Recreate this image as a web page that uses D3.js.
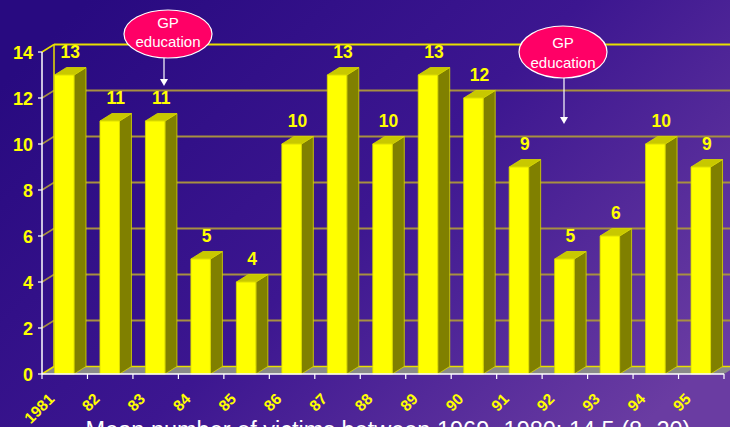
<!DOCTYPE html>
<html><head><meta charset="utf-8">
<script src="https://cdn.jsdelivr.net/npm/d3@7"></script>
<style>html,body{margin:0;padding:0;background:#2a0a82;}svg{display:block;}</style>
</head><body>
<svg id="c" width="730" height="427"></svg>
<script>
const categories = ["1981","82","83","84","85","86","87","88","89","90","91","92","93","94","95"];
const values = [13,11,11,5,4,10,13,10,13,12,9,5,6,10,9];
const yTicks = [0,2,4,6,8,10,12,14];
const title = "Mean number of victims between 1969 -1980: 14.5 (8 -20)";
const callouts = [
  {after: "83", lines: ["GP","education"]},
  {after: "92", lines: ["GP","education"]}
];

const W = 730, H = 427;
const svg = d3.select("#c");
const defs = svg.append("defs");
const grad = defs.append("linearGradient").attr("id","bg")
  .attr("x1","0").attr("y1","0.2").attr("x2","1").attr("y2","0.8");
grad.append("stop").attr("offset","0").attr("stop-color","#280a80");
grad.append("stop").attr("offset","0.5").attr("stop-color","#3c1690");
grad.append("stop").attr("offset","1").attr("stop-color","#6a3ca2");
svg.append("rect").attr("width",W).attr("height",H).attr("fill","url(#bg)");

const x0 = 42, x1 = 724;
const x = d3.scaleBand().domain(categories).range([x0, x1]).padding(0);
const y = d3.scaleLinear().domain([0,14]).range([374, 52]);
const dx = 12, dy = -7.5;
const bw = 19.5, boff = 12.5;
const font = "Liberation Sans, Arial, sans-serif";

const grid = "#a89040", yel = "#e8e000";

yTicks.forEach(t => {
  if (t === 0) return;
  svg.append("line").attr("x1", x0+dx).attr("x2", W).attr("y1", y(t)+dy).attr("y2", y(t)+dy)
    .attr("stroke", t===14 ? yel : grid).attr("stroke-width", 2);
  svg.append("line").attr("x1", x0).attr("y1", y(t)).attr("x2", x0+dx).attr("y2", y(t)+dy)
    .attr("stroke", t===14 ? yel : grid).attr("stroke-width", 1.5);
});
svg.append("line").attr("x1", x0+dx).attr("x2", x0+dx).attr("y1", y(14)+dy).attr("y2", y(0)+dy)
  .attr("stroke", yel).attr("stroke-width", 1.5);

svg.append("path")
  .attr("d", `M${x0},${y(0)} L${x0+dx},${y(0)+dy} L${x1+dx},${y(0)+dy} L${x1},${y(0)} Z`)
  .attr("fill", "#8a8a8a");
svg.append("line").attr("x1", x0+dx).attr("x2", x1+dx).attr("y1", y(0)+dy).attr("y2", y(0)+dy)
  .attr("stroke", yel).attr("stroke-width", 1.5);
svg.append("line").attr("x1", x0).attr("y1", y(0)).attr("x2", x0+dx).attr("y2", y(0)+dy)
  .attr("stroke", yel).attr("stroke-width", 1.5);

const bars = svg.append("g");
categories.forEach((c, i) => {
  const v = values[i];
  const bx = x(c) + boff, top = y(v), bot = y(0);
  const g = bars.append("g").attr("stroke", "#d8d800").attr("stroke-width", 0.8).attr("stroke-linejoin","round");
  g.append("path").attr("d", `M${bx+bw},${top} L${bx+bw+dx},${top+dy} L${bx+bw+dx},${bot+dy} L${bx+bw},${bot} Z`)
    .attr("fill", "#808000");
  g.append("path").attr("d", `M${bx},${top} L${bx+dx},${top+dy} L${bx+bw+dx},${top+dy} L${bx+bw},${top} Z`)
    .attr("fill", "#c8c800");
  g.append("rect").attr("x", bx).attr("y", top).attr("width", bw).attr("height", bot-top)
    .attr("fill", "#ffff00");
  svg.append("text").attr("x", bx + (bw+dx)/2).attr("y", top + dy - 9.5)
    .attr("text-anchor","middle").attr("fill","#ffff00")
    .attr("font-family",font).attr("font-weight","bold").attr("font-size",17.5)
    .text(v);
});

svg.append("line").attr("x1", x0).attr("x2", x0).attr("y1", y(14)).attr("y2", y(0))
  .attr("stroke","#ffffff").attr("stroke-width",1.5);
svg.append("line").attr("x1", x0).attr("x2", x1).attr("y1", y(0)).attr("y2", y(0))
  .attr("stroke","#ffffff").attr("stroke-width",1.5);
yTicks.forEach(t => {
  svg.append("line").attr("x1", x0-4).attr("x2", x0).attr("y1", y(t)).attr("y2", y(t))
    .attr("stroke","#ffffff").attr("stroke-width",1.2);
  svg.append("text").attr("x", 33).attr("y", y(t)+6.5).attr("text-anchor","end")
    .attr("fill","#ffff00").attr("font-family",font)
    .attr("font-weight","bold").attr("font-size",18).text(t);
});
const bounds = categories.map(c => x(c)).concat([x1]);
bounds.forEach(b => {
  svg.append("line").attr("x1", b).attr("x2", b).attr("y1", y(0)).attr("y2", y(0)+5)
    .attr("stroke","#ffffff").attr("stroke-width",1.2);
});
categories.forEach(c => {
  const cx = x(c) + x.bandwidth()/2 - 9.5, cy = 400;
  svg.append("text").attr("transform", `translate(${cx},${cy}) rotate(-45)`)
    .attr("text-anchor","end").attr("fill","#ffff00")
    .attr("font-family",font).attr("font-weight","bold").attr("font-size",15.5)
    .text(c);
});

svg.append("text").attr("x", 388).attr("y", 438).attr("text-anchor","middle")
  .attr("fill","#ffffff").attr("font-family",font).attr("font-size",23.5)
  .text(title);

const cs = [
  {cx: 168, cy: 34, rx: 44, ry: 24, ax: 164, ay1: 58, ay2: 86, t1: 28, t2: 47},
  {cx: 563, cy: 52, rx: 44, ry: 26, ax: 564, ay1: 78, ay2: 124, t1: 48, t2: 68}
];
callouts.forEach((co, i) => {
  const p = cs[i];
  svg.append("line").attr("x1", p.ax).attr("x2", p.ax).attr("y1", p.ay1).attr("y2", p.ay2-6)
    .attr("stroke","#ffffff").attr("stroke-width",1.2);
  svg.append("path").attr("d", `M${p.ax-4},${p.ay2-7} L${p.ax+4},${p.ay2-7} L${p.ax},${p.ay2} Z`).attr("fill","#ffffff");
  svg.append("ellipse").attr("cx", p.cx).attr("cy", p.cy).attr("rx", p.rx).attr("ry", p.ry)
    .attr("fill","#ff0066").attr("stroke","#ffffff").attr("stroke-width",1.2);
  [p.t1, p.t2].forEach((ty, k) => {
    svg.append("text").attr("x", p.cx).attr("y", ty).attr("text-anchor","middle")
      .attr("fill","#ffffff").attr("font-family",font).attr("font-size",15)
      .text(co.lines[k]);
  });
});
</script>
</body></html>
